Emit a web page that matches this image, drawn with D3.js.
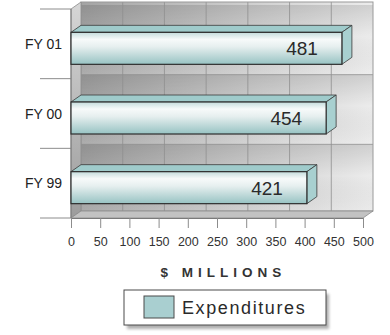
<!DOCTYPE html>
<html>
<head>
<meta charset="utf-8">
<script src="https://cdn.jsdelivr.net/npm/d3@7/dist/d3.min.js"></script>
<style>
  html, body { margin: 0; padding: 0; background: #fff; }
  svg { display: block; font-family: "Liberation Sans", Arial, sans-serif; }
</style>
</head>
<body>
<svg id="chart" width="390" height="335"></svg>
<script>
// Annual expenditures, $ millions
const categories = ["FY 01", "FY 00", "FY 99"];
const expenditures = [481, 454, 421];
const xTicks = [0, 50, 100, 150, 200, 250, 300, 350, 400, 450, 500];
const seriesName = "Expenditures";
const axisTitle = "$ MILLIONS";

const svg = d3.select("#chart");
const defs = svg.append("defs");

// 3D depth offset of the back plane
const dx = 10, dy = -7;

const x = d3.scaleLinear().domain([0, 500]).range([71, 363]);
const y = d3.scaleBand().domain(categories).range([9, 218]).padding(0);
const barH = 32;

// gradients
const wallGrad = defs.append("linearGradient").attr("id", "wall")
  .attr("x1", 0).attr("x2", 1).attr("y1", 0).attr("y2", 0);
wallGrad.append("stop").attr("offset", "0%").attr("stop-color", "#a4a4a4");
wallGrad.append("stop").attr("offset", "55%").attr("stop-color", "#cdcdcd");
wallGrad.append("stop").attr("offset", "100%").attr("stop-color", "#ececec");

const rowShade = defs.append("linearGradient").attr("id", "rowShade")
  .attr("x1", 0).attr("x2", 0).attr("y1", 0).attr("y2", 1);
rowShade.append("stop").attr("offset", "0%").attr("stop-color", "#000").attr("stop-opacity", 0.12);
rowShade.append("stop").attr("offset", "45%").attr("stop-color", "#000").attr("stop-opacity", 0.0);
rowShade.append("stop").attr("offset", "100%").attr("stop-color", "#fff").attr("stop-opacity", 0.1);

const sideGrad = defs.append("linearGradient").attr("id", "side")
  .attr("x1", 0).attr("x2", 0).attr("y1", 0).attr("y2", 1);
sideGrad.append("stop").attr("offset", "0%").attr("stop-color", "#d6d6d6");
sideGrad.append("stop").attr("offset", "100%").attr("stop-color", "#9c9c9c");

const frontGrad = defs.append("linearGradient").attr("id", "front")
  .attr("x1", 0).attr("x2", 0).attr("y1", 0).attr("y2", 1);
frontGrad.append("stop").attr("offset", "0%").attr("stop-color", "#c4dcdc");
frontGrad.append("stop").attr("offset", "22%").attr("stop-color", "#f7fafa");
frontGrad.append("stop").attr("offset", "45%").attr("stop-color", "#e6efef");
frontGrad.append("stop").attr("offset", "100%").attr("stop-color", "#97c3c3");

const shadowF = defs.append("filter").attr("id", "shadow")
  .attr("x", "-10%").attr("y", "-30%").attr("width", "130%").attr("height", "180%");
shadowF.append("feGaussianBlur").attr("stdDeviation", 1.6);

const x0 = x(0), x1 = x(500);
const yTop = y.range()[0], yBot = y.range()[1];

// back wall
svg.append("rect")
  .attr("x", x0 + dx).attr("y", yTop + dy)
  .attr("width", x1 - x0).attr("height", yBot - yTop)
  .attr("fill", "url(#wall)");

// per-row shading on the wall
svg.selectAll(".row").data(categories).join("rect")
  .attr("x", x0 + dx).attr("y", d => y(d) + dy + 3)
  .attr("width", x1 - x0).attr("height", y.bandwidth())
  .attr("fill", "url(#rowShade)");

// wall grid: vertical tiles
const nCols = 7;
svg.selectAll(".vgrid").data(d3.range(1, nCols)).join("line")
  .attr("x1", i => x0 + dx + i * (x1 - x0) / nCols)
  .attr("x2", i => x0 + dx + i * (x1 - x0) / nCols)
  .attr("y1", yTop + dy).attr("y2", yBot + dy)
  .attr("stroke", "#8f8f8f").attr("stroke-width", 0.8);

// wall grid: row separators
svg.selectAll(".hgrid").data(categories.slice(1)).join("line")
  .attr("x1", x0 + dx).attr("x2", x1 + dx)
  .attr("y1", d => y(d) + dy + 3).attr("y2", d => y(d) + dy + 3)
  .attr("stroke", "#8f8f8f").attr("stroke-width", 0.8);

// wall outline
svg.append("rect")
  .attr("x", x0 + dx).attr("y", yTop + dy)
  .attr("width", x1 - x0).attr("height", yBot - yTop)
  .attr("fill", "none").attr("stroke", "#9a9a9a").attr("stroke-width", 1);

// left side wall
svg.append("path")
  .attr("d", `M${x0},${yTop} L${x0 + dx},${yTop + dy} L${x0 + dx},${yBot + dy} L${x0},${yBot} Z`)
  .attr("fill", "url(#side)").attr("stroke", "#8a8a8a").attr("stroke-width", 0.8);

// floor
svg.append("path")
  .attr("d", `M${x0},${yBot} L${x0 + dx},${yBot + dy} L${x1 + dx},${yBot + dy} L${x1},${yBot} Z`)
  .attr("fill", "#c2c2c2").attr("stroke", "#8a8a8a").attr("stroke-width", 0.8);

// category separators on the left
svg.selectAll(".ytick").data([...categories.map(c => y(c)), yBot]).join("line")
  .attr("x1", 40).attr("x2", x0)
  .attr("y1", d => d).attr("y2", d => d)
  .attr("stroke", "#8c8c8c").attr("stroke-width", 1);

// left axis
svg.append("line")
  .attr("x1", x0).attr("x2", x0).attr("y1", yTop).attr("y2", yBot)
  .attr("stroke", "#7a7a7a").attr("stroke-width", 1);

// bottom axis
const xAxis = d3.axisBottom(x).tickValues(xTicks).tickSize(10).tickPadding(9).tickSizeOuter(0);
const gx = svg.append("g").attr("transform", `translate(0,${yBot})`).call(xAxis);
gx.select(".domain").attr("stroke", "#7a7a7a");
gx.selectAll(".tick line").attr("stroke", "#8c8c8c");
gx.selectAll(".tick text")
  .attr("font-family", "'Liberation Sans', Arial, sans-serif")
  .attr("font-size", 12.5).attr("fill", "#333");

// bars
const bars = svg.selectAll(".bar").data(categories.map((c, i) => ({ c, v: expenditures[i] })))
  .join("g").attr("class", "bar");

const frontTop = d => y(d.c) + y.bandwidth() / 2 - barH / 2 - dy / 2 + 1;

bars.append("path") // top face
  .attr("d", d => {
    const t = frontTop(d), r = x(d.v) - dx;
    return `M${x0},${t} L${x0 + dx},${t + dy} L${r + dx},${t + dy} L${r},${t} Z`;
  })
  .attr("fill", "#9fcbcb").attr("stroke", "#3a3a3a").attr("stroke-width", 0.8);

bars.append("path") // end face
  .attr("d", d => {
    const t = frontTop(d), r = x(d.v) - dx;
    return `M${r},${t} L${r + dx},${t + dy} L${r + dx},${t + dy + barH} L${r},${t + barH} Z`;
  })
  .attr("fill", "#a8d0d0").attr("stroke", "#3a3a3a").attr("stroke-width", 0.8);

bars.append("rect") // front face
  .attr("x", x0).attr("y", frontTop)
  .attr("width", d => x(d.v) - dx - x0).attr("height", barH)
  .attr("fill", "url(#front)").attr("stroke", "#2e2e2e").attr("stroke-width", 1.2);

bars.append("text")
  .attr("x", d => x(d.v) - dx - 24)
  .attr("y", d => frontTop(d) + 23)
  .attr("text-anchor", "end")
  .attr("font-size", 19).attr("fill", "#2a2a2a")
  .text(d => d.v);

// category labels
svg.selectAll(".cat").data(categories).join("text")
  .attr("x", 62).attr("y", d => y(d) + y.bandwidth() / 2 + 5)
  .attr("text-anchor", "end")
  .attr("font-size", 14).attr("fill", "#222")
  .text(d => d);

// axis title
const ls = 5;
svg.append("text")
  .attr("x", (x0 + x1) / 2 + 4 + ls / 2).attr("y", 277)
  .attr("text-anchor", "middle")
  .attr("font-size", 13.5).attr("font-weight", "bold").attr("fill", "#333")
  .attr("letter-spacing", ls)
  .text(axisTitle);

// legend
const lg = svg.append("g").attr("transform", "translate(124,290)");
lg.append("rect").attr("x", 3).attr("y", 4).attr("width", 202).attr("height", 35)
  .attr("fill", "#7a7a7a").attr("opacity", 0.6).attr("filter", "url(#shadow)");
lg.append("rect").attr("x", 0).attr("y", 0).attr("width", 202).attr("height", 35)
  .attr("fill", "#fff").attr("stroke", "#4a4a4a").attr("stroke-width", 1);
lg.append("rect").attr("x", 20).attr("y", 6).attr("width", 30).attr("height", 22)
  .attr("fill", "#a9cfd0").attr("stroke", "#4a4a4a").attr("stroke-width", 1);
lg.append("text").attr("x", 58).attr("y", 24)
  .attr("font-size", 18).attr("fill", "#2a2a2a").attr("letter-spacing", 1.6)
  .text(seriesName);
</script>
</body>
</html>
